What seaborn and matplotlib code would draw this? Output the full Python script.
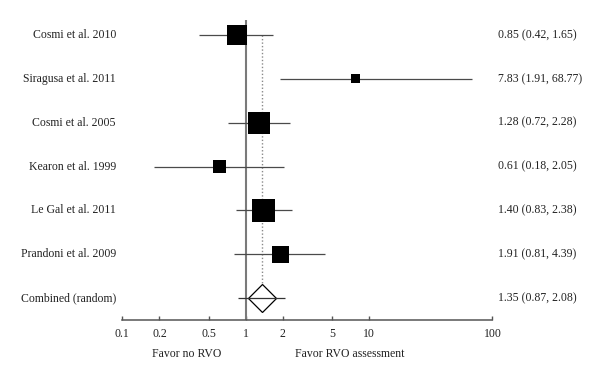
import matplotlib
matplotlib.use("Agg")
import matplotlib.pyplot as plt
import matplotlib.transforms as mtransforms
import pandas as pd
import seaborn as sns

studies = [
    "Cosmi et al. 2010",
    "Siragusa et al. 2011",
    "Cosmi et al. 2005",
    "Kearon et al. 1999",
    "Le Gal et al. 2011",
    "Prandoni et al. 2009",
]
estimates = [0.85, 7.83, 1.28, 0.61, 1.40, 1.91]
lower = [0.42, 1.91, 0.72, 0.18, 0.83, 0.81]
upper = [1.65, 68.77, 2.28, 2.05, 2.38, 4.39]
weights = [20.5, 4.1, 24.8, 8.7, 27.1, 14.8]  # study weight (%), drives square size

combined_label = "Combined (random)"
combined_est = 1.35
combined_lower = 0.87
combined_upper = 2.08

tick_values = [0.1, 0.2, 0.5, 1, 2, 5, 10, 100]
tick_labels = ["0.1", "0.2", "0.5", "1", "2", "5", "10", "100"]

sns.set_theme(style="white")
plt.rcParams["font.family"] = ["Liberation Serif", "DejaVu Serif"]

rows = list(range(len(studies) + 1, 1, -1))
df = pd.DataFrame({"study": studies, "est": estimates, "lo": lower, "hi": upper,
                   "w": weights, "row": rows})

fig = plt.figure(figsize=(6, 3.82), dpi=100)
ax = fig.add_axes([0.2038, 0.1623, 0.617, 0.785])
ax.set_xscale("log")

# reference line at 1 and dotted line at pooled estimate
ax.axvline(1, color="#7a7a7a", lw=1.5, zorder=1)
ax.plot([combined_est, combined_est], [rows[0], 1.34], color="#8a8a8a", lw=1,
        ls=(0, (1, 1.5)), zorder=1)

# confidence intervals
ax.hlines(df["row"], df["lo"], df["hi"], color="#4a4a4a", lw=0.9, zorder=2)
sns.scatterplot(data=df, x="est", y="row", size="w", sizes=(0, 274), size_norm=(0, max(weights)),
                marker="s", color="black", linewidth=0, legend=False, ax=ax, zorder=3)

# pooled estimate
ax.plot([combined_est], [1], marker="D", markersize=14.7, markerfacecolor="white",
        markeredgecolor="black", markeredgewidth=0.9, zorder=3)
ax.hlines([1], [combined_lower], [combined_upper], color="#333333", lw=0.9, zorder=4)

# labels left and right
trans = mtransforms.blended_transform_factory(ax.transAxes, ax.transData)
all_labels = studies + [combined_label]
all_rows = rows + [1]
all_est = estimates + [combined_est]
all_lo = lower + [combined_lower]
all_hi = upper + [combined_upper]
for lab, r, e, lo, hi in zip(all_labels, all_rows, all_est, all_lo, all_hi):
    ax.text(-0.017, r, lab, transform=trans, ha="right", va="center", fontsize=8.5, color="#222222")
    ax.text(1.015, r, f"{e:.2f} ({lo:.2f}, {hi:.2f})", transform=trans, ha="left", va="center",
            fontsize=8.5, color="#222222")

ax.set_xlim(0.1, 100)
ax.set_ylim(0.498, 7.342)
ax.set_xticks(tick_values)
ax.set_xticklabels(tick_labels)
ax.xaxis.set_minor_locator(matplotlib.ticker.NullLocator())
ax.set_yticks([])
ax.set_xlabel("")
ax.set_ylabel("")
ax.tick_params(axis="x", direction="in", length=3, width=1, color="#555555", labelsize=8.5,
               labelcolor="#222222", pad=6, bottom=True)
for side in ["top", "right", "left"]:
    ax.spines[side].set_visible(False)
ax.spines["bottom"].set_color("#555555")
ax.spines["bottom"].set_linewidth(1.1)

ax.text(0.334, -0.115, "Favor no RVO", transform=mtransforms.blended_transform_factory(ax.transData, ax.transAxes),
        ha="center", va="center", fontsize=8.5, color="#222222")
ax.text(7.0, -0.115, "Favor RVO assessment", transform=mtransforms.blended_transform_factory(ax.transData, ax.transAxes),
        ha="center", va="center", fontsize=8.5, color="#222222")

fig.savefig("out.png", dpi=100)
